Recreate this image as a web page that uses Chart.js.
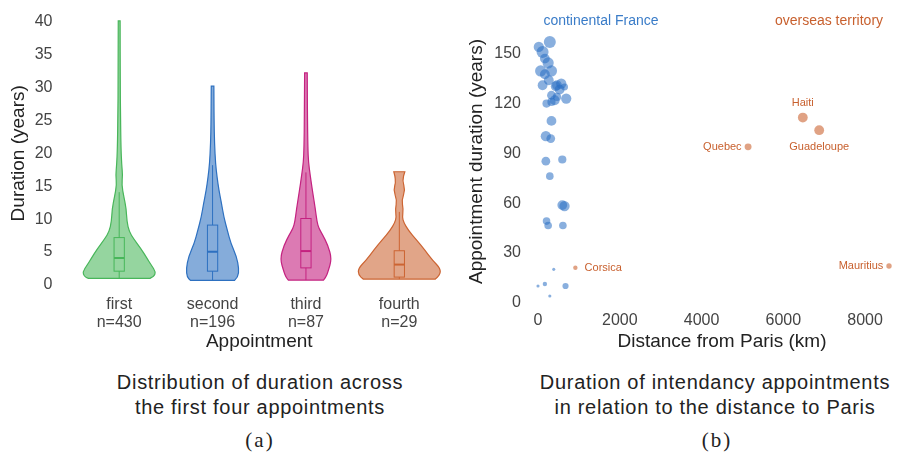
<!DOCTYPE html>
<html>
<head>
<meta charset="utf-8">
<script src="https://cdn.jsdelivr.net/npm/chart.js@4"></script>
<style>
  html, body { margin: 0; padding: 0; background: #fff; overflow: hidden; }
  body { width: 899px; height: 454px; position: relative; font-family: "Liberation Sans", Arial, sans-serif; }
  canvas { position: absolute; top: 0; }
  #violin { left: 0; }
  #scatter { left: 450px; }
  .caption { position: absolute; width: 420px; text-align: center; font-size: 20px; letter-spacing: 0.7px; line-height: 25px; color: #222; white-space: nowrap; }
  .sub { position: absolute; font-family: "Liberation Serif", serif; font-size: 21px; letter-spacing: 2px; color: #222; transform: translate(-50%, -50%); line-height: 1; }
  .tag { position: absolute; font-size: 14px; transform: translate(-50%, -50%); white-space: nowrap; line-height: 1; }
</style>
</head>
<body>
<canvas id="violin" width="450" height="360"></canvas>
<canvas id="scatter" width="462" height="360"></canvas>

<div class="tag" style="left:601px; top:20px; color:#3a7cc8;">continental France</div>
<div class="tag" style="left:829px; top:20px; color:#c8602e;">overseas territory</div>

<div class="caption" style="left:50px; top:370px;">Distribution of duration across<br>the first four appointments</div>
<div class="caption" style="left:505px; top:370px;">Duration of intendancy appointments<br>in relation to the distance to Paris</div>
<div class="sub" style="left:260px; top:440px;">(a)</div>
<div class="sub" style="left:717px; top:440px;">(b)</div>

<script>
// ---- panel (a): violins ----
const appointments = ["first", "second", "third", "fourth"];
const sampleSizes = [430, 196, 87, 29];

// density profile of each violin (duration level -> half width in category units)
const firstLevels = [1.0, 1.3, 2.0, 3.0, 4.0, 5.6, 7.0, 8.1, 9.6, 11.6, 13.4, 15.2, 16.7, 18.2, 20.8, 25.8, 30.9, 40.1];
const firstDensity = [0.33, 0.375, 0.39, 0.345, 0.30, 0.23, 0.155, 0.107, 0.083, 0.075, 0.05, 0.027, 0.037, 0.027, 0.019, 0.014, 0.011, 0.01];
const secondLevels = [0.7, 1.2, 2.5, 4.3, 6.3, 8.3, 10.3, 12.4, 14.4, 16.4, 18.4, 21.5, 25.0, 30.2];
const secondDensity = [0.236, 0.273, 0.282, 0.257, 0.196, 0.158, 0.121, 0.096, 0.068, 0.048, 0.032, 0.021, 0.016, 0.014];
const thirdLevels = [0.75, 1.2, 2.0, 4.0, 6.1, 7.6, 8.6, 9.6, 11.6, 14.1, 16.7, 18.7, 20.7, 25.7, 32.2];
const thirdDensity = [0.188, 0.214, 0.236, 0.277, 0.233, 0.179, 0.139, 0.118, 0.1, 0.072, 0.045, 0.027, 0.021, 0.016, 0.014];
const fourthLevels = [0.9, 1.5, 2.5, 3.8, 5.3, 6.8, 8.3, 9.5, 10.3, 11.5, 12.9, 14.4, 15.9, 17.2];
const fourthDensity = [0.386, 0.437, 0.44, 0.354, 0.273, 0.188, 0.096, 0.048, 0.032, 0.043, 0.025, 0.064, 0.032, 0.059];

const boxQ1 = [2.1, 2.1, 2.6, 1.2];
const boxMedian = [4.1, 5.05, 5.15, 3.1];
const boxQ3 = [7.2, 9.1, 10.1, 5.2];
const whiskerLow = [1.0, 0.7, 0.75, 0.9];
const whiskerHigh = [14.1, 18.2, 17.1, 11.1];

const durationTicks = [0, 5, 10, 15, 20, 25, 30, 35, 40];

// ---- panel (b): scatter ----
const continentalKm = [289, 20, 112, 168, 248, 65, 329, 168, 264, 112, 433, 569, 649, 329, 464, 690, 209, 329, 329, 192, 312, 192, 594, 289, 594, 649, 209, 248, 609, 385, 0, 168, 673, 289, 464, 529, 409];
const continentalYears = [156.8, 153.8, 150.8, 146.8, 144.2, 139.4, 139.4, 137.4, 133.8, 130.8, 130.2, 131.8, 129.8, 124.8, 123.8, 122.8, 119.8, 120.8, 109.4, 100.2, 98.8, 85.2, 86.2, 76.2, 58.8, 58.2, 49.2, 46.6, 46.6, 20.2, 10.2, 11.4, 10.2, 4.2, 130.8, 128.2, 121.8];
const continentalCount = [15, 11, 15, 10, 13, 13, 13, 10, 10, 10, 10, 11, 5, 8, 7, 11, 7, 7, 10, 11, 8, 8, 7, 6, 10, 11, 6, 6, 6, 1, 1, 2, 4, 1, 10, 10, 10];

const overseasNames = ["Corsica", "Quebec", "Haiti", "Guadeloupe", "Mauritius"];
const overseasKm = [914, 5138, 6476, 6877, 8584];
const overseasYears = [21.2, 93.8, 111.4, 103.8, 22.2];
const overseasCount = [2, 5, 10, 10, 3];

const distanceTicks = [0, 2000, 4000, 6000, 8000];
const yearTicks = [0, 30, 60, 90, 120, 150];

// ---- styles ----
Chart.defaults.font.family = "'Liberation Sans', Arial, sans-serif";
const TICK_COLOR = "#444";
const TITLE_COLOR = "#222";
const violinColors = [
  { stroke: "rgb(72,182,90)", fill: "rgba(72,182,90,0.58)" },
  { stroke: "rgb(45,112,192)", fill: "rgba(45,112,192,0.58)" },
  { stroke: "rgb(196,34,128)", fill: "rgba(196,34,128,0.6)" },
  { stroke: "rgb(204,100,50)", fill: "rgba(204,100,50,0.58)" }
];
const BOX_HALF = 0.055;
const blueDot = "rgba(40,110,195,0.55)";
const orangeDot = "rgba(204,100,50,0.6)";
const orangeText = "#c8602e";
const radius = n => 1.55 * Math.sqrt(n);
const labelSide = { Corsica: "right", Quebec: "left", Haiti: "above", Guadeloupe: "below", Mauritius: "left" };

const violins = [
  { levels: firstLevels, density: firstDensity },
  { levels: secondLevels, density: secondDensity },
  { levels: thirdLevels, density: thirdDensity },
  { levels: fourthLevels, density: fourthDensity }
];

function smoothTo(ctx, pts, start) {
  if (start) ctx.moveTo(pts[0][0], pts[0][1]); else ctx.lineTo(pts[0][0], pts[0][1]);
  for (let k = 1; k < pts.length - 1; k++) {
    const mx = (pts[k][0] + pts[k + 1][0]) / 2, my = (pts[k][1] + pts[k + 1][1]) / 2;
    ctx.quadraticCurveTo(pts[k][0], pts[k][1], mx, my);
  }
  const last = pts[pts.length - 1];
  ctx.lineTo(last[0], last[1]);
}

const violinPlugin = {
  id: "violins",
  afterDatasetsDraw(chart) {
    const { ctx, scales: { x, y } } = chart;
    violins.forEach((v, i) => {
      const c = i + 1;
      const col = violinColors[i];
      const right = v.levels.map((lv, k) => [x.getPixelForValue(c + v.density[k]), y.getPixelForValue(lv)]);
      const left = v.levels.map((lv, k) => [x.getPixelForValue(c - v.density[k]), y.getPixelForValue(lv)]).reverse();
      ctx.save();
      ctx.beginPath();
      smoothTo(ctx, right, true);
      smoothTo(ctx, left, false);
      ctx.closePath();
      ctx.fillStyle = col.fill;
      ctx.fill();
      ctx.lineWidth = 1.2;
      ctx.strokeStyle = col.stroke;
      ctx.stroke();

      // box plot
      const cx = x.getPixelForValue(c);
      const bx0 = x.getPixelForValue(c - BOX_HALF), bx1 = x.getPixelForValue(c + BOX_HALF);
      ctx.lineWidth = 1;
      ctx.beginPath();
      ctx.moveTo(cx, y.getPixelForValue(whiskerLow[i]));
      ctx.lineTo(cx, y.getPixelForValue(boxQ1[i]));
      ctx.moveTo(cx, y.getPixelForValue(boxQ3[i]));
      ctx.lineTo(cx, y.getPixelForValue(whiskerHigh[i]));
      ctx.stroke();
      const yq3 = y.getPixelForValue(boxQ3[i]), yq1 = y.getPixelForValue(boxQ1[i]);
      ctx.strokeRect(bx0, yq3, bx1 - bx0, yq1 - yq3);
      ctx.lineWidth = 2;
      ctx.beginPath();
      const ym = y.getPixelForValue(boxMedian[i]);
      ctx.moveTo(bx0, ym);
      ctx.lineTo(bx1, ym);
      ctx.stroke();
      ctx.restore();
    });
  }
};

new Chart(document.getElementById("violin"), {
  type: "scatter",
  data: { datasets: [] },
  options: {
    responsive: false,
    animation: false,
    events: [],
    layout: { padding: { top: 21, right: 4, left: 0, bottom: 0 } },
    plugins: { legend: { display: false }, tooltip: { enabled: false } },
    scales: {
      x: {
        type: "linear", min: 0.5, max: 4.5,
        grid: { display: false }, border: { display: false },
        afterBuildTicks: s => { s.ticks = appointments.map((_, i) => ({ value: i + 1 })); },
        afterFit: s => { s.height = 75; },
        ticks: {
          padding: 3, color: TICK_COLOR, autoSkip: false, maxRotation: 0,
          font: { size: 16, lineHeight: 1.125 },
          callback: v => [appointments[v - 1], "n=" + sampleSizes[v - 1]]
        },
        title: { display: true, text: "Appointment", color: TITLE_COLOR, font: { size: 19 }, padding: { top: 0, bottom: 7 } }
      },
      y: {
        type: "linear", min: 0, max: 40,
        grid: { display: false }, border: { display: false },
        afterBuildTicks: s => { s.ticks = durationTicks.map(v => ({ value: v })); },
        afterFit: s => { s.width = 72.5; },
        ticks: { padding: 12, color: TICK_COLOR, font: { size: 16 }, callback: v => String(v) },
        title: { display: true, text: "Duration (years)", color: TITLE_COLOR, font: { size: 19 }, padding: { top: 7, bottom: 0 } }
      }
    }
  },
  plugins: [violinPlugin]
});

const labelPlugin = {
  id: "pointLabels",
  afterDatasetsDraw(chart) {
    const { ctx, scales: { x, y } } = chart;
    ctx.save();
    ctx.font = "11px 'Liberation Sans', Arial, sans-serif";
    ctx.fillStyle = orangeText;
    ctx.textBaseline = "middle";
    overseasNames.forEach((name, i) => {
      const px = x.getPixelForValue(overseasKm[i]);
      const py = y.getPixelForValue(overseasYears[i]);
      const r = radius(overseasCount[i]);
      const side = labelSide[name];
      if (side === "right") { ctx.textAlign = "left"; ctx.fillText(name, px + r + 7, py); }
      else if (side === "left") { ctx.textAlign = "right"; ctx.fillText(name, px - r - 3, py); }
      else if (side === "above") { ctx.textAlign = "center"; ctx.fillText(name, px, py - r - 10); }
      else { ctx.textAlign = "center"; ctx.fillText(name, px, py + r + 12); }
    });
    ctx.restore();
  }
};

new Chart(document.getElementById("scatter"), {
  type: "bubble",
  data: {
    datasets: [
      {
        label: "continental France",
        data: continentalKm.map((k, i) => ({ x: k, y: continentalYears[i], r: radius(continentalCount[i]) })),
        backgroundColor: blueDot, borderWidth: 0, clip: false
      },
      {
        label: "overseas territory",
        data: overseasKm.map((k, i) => ({ x: k, y: overseasYears[i], r: radius(overseasCount[i]) })),
        backgroundColor: orangeDot, borderWidth: 0, clip: false
      }
    ]
  },
  options: {
    responsive: false,
    animation: false,
    events: [],
    layout: { padding: { top: 20, right: 0, left: 0, bottom: 0 } },
    plugins: { legend: { display: false }, tooltip: { enabled: false } },
    scales: {
      x: {
        type: "linear", min: 0, max: 9000,
        grid: { display: false }, border: { display: false },
        afterBuildTicks: s => { s.ticks = distanceTicks.map(v => ({ value: v })); },
        afterFit: s => { s.height = 57; },
        ticks: { padding: 0, color: TICK_COLOR, font: { size: 16 }, maxRotation: 0, callback: v => String(v) },
        title: { display: true, text: "Distance from Paris (km)", color: TITLE_COLOR, font: { size: 19 }, padding: { top: 0, bottom: 7 } }
      },
      y: {
        type: "linear", min: 0, max: 170,
        grid: { display: false }, border: { display: false },
        afterBuildTicks: s => { s.ticks = yearTicks.map(v => ({ value: v })); },
        afterFit: s => { s.width = 88; },
        ticks: { padding: 9, color: TICK_COLOR, font: { size: 16 }, callback: v => String(v) },
        title: { display: true, text: "Appointment duration (years)", color: TITLE_COLOR, font: { size: 19 }, padding: { top: 15.6, bottom: 0 } }
      }
    }
  },
  plugins: [labelPlugin]
});
</script>
</body>
</html>
